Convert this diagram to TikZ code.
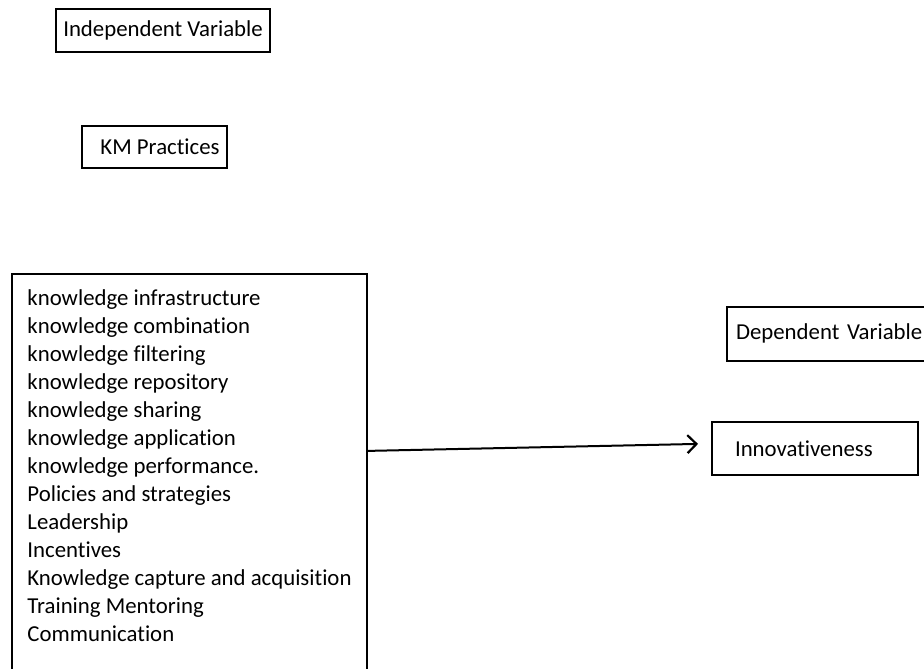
\documentclass[tikz,border=0pt]{standalone}
\usepackage{fontspec}
\setmainfont{Carlito}[Ligatures=NoCommon]
\usepackage{tikz}
\usetikzlibrary{arrows.meta,positioning}

\begin{document}
\begin{tikzpicture}[
  font=\fontsize{11.4}{14}\selectfont,
  box/.style={draw, line width=1pt, inner sep=0pt, outer sep=0pt},
  arr/.style={-{Straight Barb[length=4.5pt, width=9pt, line width=1.1pt]}, line width=1pt}
]
  \useasboundingbox (0,0) rectangle (462pt,-334pt);

  \node[box, minimum width=107pt, minimum height=21.5pt] (indep) at (81.5pt,-15.25pt) {Independent Variable};
  \node[box, minimum width=72.5pt, minimum height=21pt, below=37pt of indep, xshift=-4.25pt] (km) {\hspace{5.5pt}KM Practices};

  % list of KM practice dimensions
  \node[box, minimum width=177.5pt, inner ysep=8pt, align=left, below=53pt of km, xshift=17.5pt] (factors)
    {knowledge infrastructure\\
     knowledge combination\\
     knowledge filtering\\
     knowledge repository\\
     knowledge sharing\\
     knowledge application\\
     knowledge performance.\\
     Policies and strategies\\
     Leadership\\
     Incentives\\
     Knowledge capture and acquisition\\
     Training Mentoring\\
     Communication\rule[-6pt]{0pt}{0pt}};

  \node[box, inner xsep=11.5pt, text width=80pt, minimum height=26.5pt, align=left,
        right=172.5pt of factors, yshift=11.75pt] (innov) {Innovativeness};
  \node[box, inner xsep=4.5pt, text width=100pt, minimum height=27pt, align=left,
        above=30.5pt of innov, xshift=10.5pt] (dep) {Dependent Variable};

  \draw[arr] ([yshift=10.5pt]factors.east) -- ([xshift=-7pt, yshift=2.25pt]innov.west);
\end{tikzpicture}
\end{document}
